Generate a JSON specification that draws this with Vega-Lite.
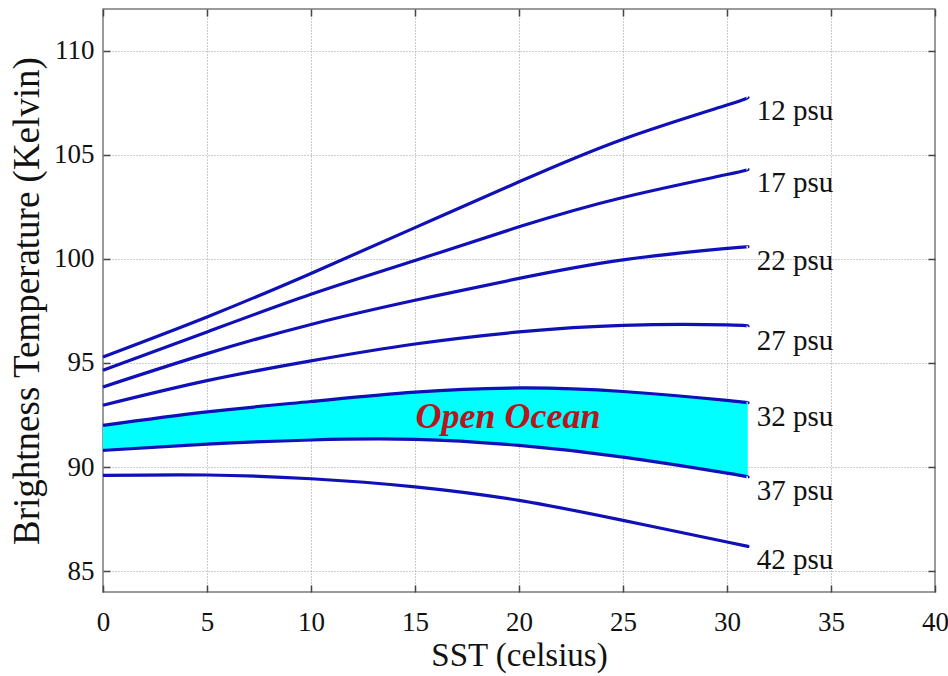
{
  "$schema": "https://vega.github.io/schema/vega-lite/v6.json",
  "width": 832,
  "height": 583,
  "autosize": {"type": "none"},
  "padding": {"left": 103, "top": 9, "right": 13, "bottom": 84},
  "background": "white",
  "config": {
    "view": {"stroke": "#7a7a7a", "strokeWidth": 1.5},
    "axis": {
      "labelFont": "Liberation Serif",
      "titleFont": "Liberation Serif",
      "labelColor": "#111111",
      "titleColor": "#111111",
      "titleFontWeight": "normal",
      "domain": false,
      "tickColor": "#444444",
      "tickWidth": 1.5
    }
  },
  "datasets": {
    "curves": [
      {"sst": 0, "tb": 95.29, "salinity": "12 psu"},
      {"sst": 5, "tb": 97.21, "salinity": "12 psu"},
      {"sst": 10, "tb": 99.3, "salinity": "12 psu"},
      {"sst": 15, "tb": 101.5, "salinity": "12 psu"},
      {"sst": 20, "tb": 103.7, "salinity": "12 psu"},
      {"sst": 25, "tb": 105.75, "salinity": "12 psu"},
      {"sst": 30, "tb": 107.39, "salinity": "12 psu"},
      {"sst": 31, "tb": 107.76, "salinity": "12 psu"},
      {"sst": 0, "tb": 94.65, "salinity": "17 psu"},
      {"sst": 5, "tb": 96.49, "salinity": "17 psu"},
      {"sst": 10, "tb": 98.3, "salinity": "17 psu"},
      {"sst": 15, "tb": 99.92, "salinity": "17 psu"},
      {"sst": 20, "tb": 101.54, "salinity": "17 psu"},
      {"sst": 25, "tb": 102.95, "salinity": "17 psu"},
      {"sst": 30, "tb": 104.05, "salinity": "17 psu"},
      {"sst": 31, "tb": 104.31, "salinity": "17 psu"},
      {"sst": 0, "tb": 93.85, "salinity": "22 psu"},
      {"sst": 5, "tb": 95.45, "salinity": "22 psu"},
      {"sst": 10, "tb": 96.85, "salinity": "22 psu"},
      {"sst": 15, "tb": 98.01, "salinity": "22 psu"},
      {"sst": 20, "tb": 99.06, "salinity": "22 psu"},
      {"sst": 25, "tb": 99.95, "salinity": "22 psu"},
      {"sst": 30, "tb": 100.5, "salinity": "22 psu"},
      {"sst": 31, "tb": 100.58, "salinity": "22 psu"},
      {"sst": 0, "tb": 92.97, "salinity": "27 psu"},
      {"sst": 5, "tb": 94.15, "salinity": "27 psu"},
      {"sst": 10, "tb": 95.1, "salinity": "27 psu"},
      {"sst": 15, "tb": 95.91, "salinity": "27 psu"},
      {"sst": 20, "tb": 96.49, "salinity": "27 psu"},
      {"sst": 25, "tb": 96.81, "salinity": "27 psu"},
      {"sst": 30, "tb": 96.83, "salinity": "27 psu"},
      {"sst": 31, "tb": 96.75, "salinity": "27 psu"},
      {"sst": 0, "tb": 92.0, "salinity": "32 psu"},
      {"sst": 5, "tb": 92.65, "salinity": "32 psu"},
      {"sst": 10, "tb": 93.15, "salinity": "32 psu"},
      {"sst": 15, "tb": 93.6, "salinity": "32 psu"},
      {"sst": 20, "tb": 93.8, "salinity": "32 psu"},
      {"sst": 25, "tb": 93.63, "salinity": "32 psu"},
      {"sst": 30, "tb": 93.2, "salinity": "32 psu"},
      {"sst": 31, "tb": 93.08, "salinity": "32 psu"},
      {"sst": 0, "tb": 90.8, "salinity": "37 psu"},
      {"sst": 5, "tb": 91.1, "salinity": "37 psu"},
      {"sst": 10, "tb": 91.3, "salinity": "37 psu"},
      {"sst": 15, "tb": 91.33, "salinity": "37 psu"},
      {"sst": 20, "tb": 91.04, "salinity": "37 psu"},
      {"sst": 25, "tb": 90.48, "salinity": "37 psu"},
      {"sst": 30, "tb": 89.71, "salinity": "37 psu"},
      {"sst": 31, "tb": 89.52, "salinity": "37 psu"},
      {"sst": 0, "tb": 89.6, "salinity": "42 psu"},
      {"sst": 5, "tb": 89.62, "salinity": "42 psu"},
      {"sst": 10, "tb": 89.44, "salinity": "42 psu"},
      {"sst": 15, "tb": 89.05, "salinity": "42 psu"},
      {"sst": 20, "tb": 88.4, "salinity": "42 psu"},
      {"sst": 25, "tb": 87.44, "salinity": "42 psu"},
      {"sst": 30, "tb": 86.4, "salinity": "42 psu"},
      {"sst": 31, "tb": 86.19, "salinity": "42 psu"}
    ],
    "note": [
      {"sst": 19.47, "tb": 91.86, "text": "Open Ocean"}
    ]
  },
  "resolve": {"axis": {"x": "independent", "y": "independent"}},
  "layer": [
    {
      "data": {"name": "curves"},
      "transform": [
        {"filter": {"field": "salinity", "oneOf": ["32 psu", "37 psu"]}},
        {"pivot": "salinity", "value": "tb", "groupby": ["sst"]}
      ],
      "mark": {"type": "area", "color": "#00ffff", "interpolate": "natural", "opacity": 1},
      "encoding": {
        "x": {
          "field": "sst", "type": "quantitative",
          "scale": {"domain": [0, 40], "nice": false},
          "axis": {
            "orient": "bottom",
            "values": [0, 5, 10, 15, 20, 25, 30, 35, 40],
            "title": "SST (celsius)",
            "titleFontSize": 33,
            "titlePadding": 4,
            "labelFontSize": 27,
            "labelPadding": 17,
            "ticks": false,
            "grid": true,
            "gridColor": "#9a9a9a",
            "gridDash": [1, 2],
            "gridWidth": 1,
            "labelFlush": false
          }
        },
        "y": {
          "field": "37 psu", "type": "quantitative",
          "scale": {"domain": [84, 112], "nice": false, "zero": false},
          "axis": {
            "orient": "left",
            "values": [85, 90, 95, 100, 105, 110],
            "title": "Brightness Temperature (Kelvin)",
            "titleFontSize": 37,
            "titlePadding": 7,
            "labelFontSize": 27,
            "labelPadding": 9,
            "ticks": false,
            "grid": true,
            "gridColor": "#9a9a9a",
            "gridDash": [1, 2],
            "gridWidth": 1
          }
        },
        "y2": {"field": "32 psu"}
      }
    },
    {
      "data": {"name": "curves"},
      "mark": {"type": "line", "color": "#1010b8", "strokeWidth": 3.2, "interpolate": "natural"},
      "encoding": {
        "x": {
          "field": "sst", "type": "quantitative",
          "scale": {"domain": [0, 40], "nice": false},
          "axis": {"orient": "top", "values": [0, 5, 10, 15, 20, 25, 30, 35, 40], "labels": false, "title": null, "grid": false, "tickSize": 7, "offset": -7}
        },
        "y": {
          "field": "tb", "type": "quantitative",
          "scale": {"domain": [84, 112], "nice": false, "zero": false},
          "axis": {"orient": "right", "values": [85, 90, 95, 100, 105, 110], "labels": false, "title": null, "grid": false, "tickSize": 7, "offset": -7}
        },
        "detail": {"field": "salinity"}
      }
    },
    {
      "data": {"name": "curves"},
      "transform": [{"filter": "datum.sst == 31"}],
      "mark": {"type": "text", "align": "left", "baseline": "middle", "dx": 9, "dy": 14, "font": "Liberation Serif", "fontSize": 29, "color": "#111111"},
      "encoding": {
        "x": {
          "field": "sst", "type": "quantitative",
          "axis": {"orient": "bottom", "values": [0, 5, 10, 15, 20, 25, 30, 35, 40], "labels": false, "title": null, "grid": false, "tickSize": 7, "offset": -7}
        },
        "y": {
          "field": "tb", "type": "quantitative",
          "axis": {"orient": "left", "values": [85, 90, 95, 100, 105, 110], "labels": false, "title": null, "grid": false, "tickSize": 7, "offset": -7}
        },
        "text": {"field": "salinity"}
      }
    },
    {
      "data": {"name": "note"},
      "mark": {"type": "text", "align": "center", "baseline": "alphabetic", "font": "Liberation Serif", "fontSize": 36, "fontStyle": "italic", "fontWeight": "bold", "color": "#b8161c"},
      "encoding": {
        "x": {"field": "sst", "type": "quantitative", "axis": null},
        "y": {"field": "tb", "type": "quantitative", "axis": null},
        "text": {"field": "text"}
      }
    }
  ]
}
